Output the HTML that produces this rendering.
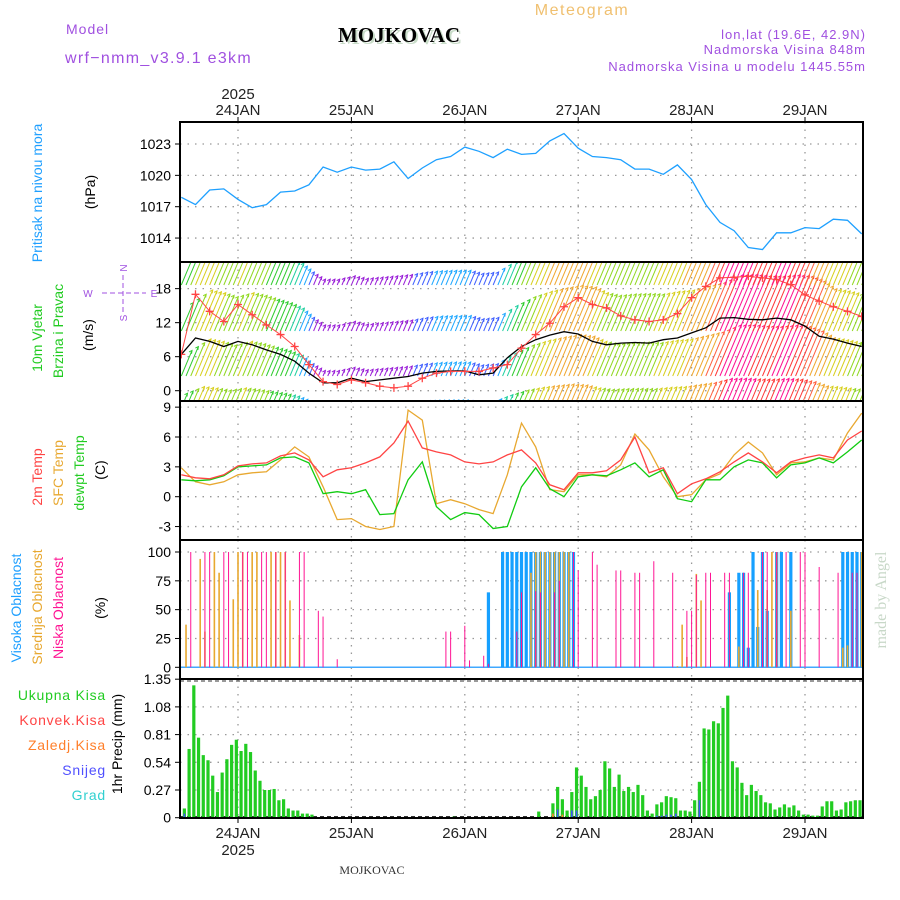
<!DOCTYPE html>
<html><head><meta charset="utf-8"><style>
html,body{margin:0;padding:0;background:#fff;}
svg{display:block;font-family:"Liberation Sans",sans-serif;}
</style></head><body>
<svg id="chart" width="900" height="900" viewBox="0 0 900 900" xmlns="http://www.w3.org/2000/svg">
<rect width="900" height="900" fill="#fff"/>
<text x="582" y="15" text-anchor="middle" font-size="16" fill="#f0c070" letter-spacing="1.5">Meteogram</text>
<text x="66" y="34" font-size="14" fill="#a050e0" letter-spacing="1">Model</text>
<text x="65" y="63" font-size="16" fill="#a050e0" letter-spacing="1.3">wrf−nmm_v3.9.1 e3km</text>
<text x="401" y="44" text-anchor="middle" font-family="Liberation Serif,serif" font-weight="bold" font-size="21" fill="#c8dcc8">MOJKOVAC</text>
<text x="399" y="42" text-anchor="middle" font-family="Liberation Serif,serif" font-weight="bold" font-size="21" fill="#000">MOJKOVAC</text>
<text x="866" y="39" text-anchor="end" font-size="13" fill="#a050e0" letter-spacing="1">lon,lat (19.6E, 42.9N)</text>
<text x="866" y="54" text-anchor="end" font-size="13" fill="#a050e0" letter-spacing="1">Nadmorska Visina 848m</text>
<text x="866" y="71" text-anchor="end" font-size="13" fill="#a050e0" letter-spacing="1">Nadmorska Visina u modelu 1445.55m</text>

<text transform="translate(42,193) rotate(-90)" text-anchor="middle" font-size="14" fill="#1e9fff">Pritisak  na  nivou  mora</text>
<text transform="translate(95,192) rotate(-90)" text-anchor="middle" font-size="14" fill="#000">(hPa)</text>
<text transform="translate(42,338) rotate(-90)" text-anchor="middle" font-size="14" fill="#22cc22">10m  Vjetar</text>
<text transform="translate(63,331) rotate(-90)" text-anchor="middle" font-size="14" fill="#22cc22">Brzina  i  Pravac</text>
<text transform="translate(93,335) rotate(-90)" text-anchor="middle" font-size="14" fill="#000">(m/s)</text>
<g fill="#a050e0" font-size="10" text-anchor="middle">
<text x="123" y="272" transform="rotate(-90 123 268)">N</text>
<text x="123" y="322" transform="rotate(-90 123 318)">S</text>
<text x="88" y="297">W</text>
<text x="154" y="297">E</text>
<line x1="102" y1="293" x2="146" y2="293" stroke="#a050e0" stroke-dasharray="5,3"/>
<line x1="123" y1="275" x2="123" y2="312" stroke="#a050e0" stroke-dasharray="5,3"/>
</g>
<text transform="translate(42,477) rotate(-90)" text-anchor="middle" font-size="14" fill="#ff4444">2m  Temp</text>
<text transform="translate(63,473) rotate(-90)" text-anchor="middle" font-size="14" fill="#e8a830">SFC  Temp</text>
<text transform="translate(84,473) rotate(-90)" text-anchor="middle" font-size="14" fill="#22cc22">dewpt  Temp</text>
<text transform="translate(105,470) rotate(-90)" text-anchor="middle" font-size="14" fill="#000">(C)</text>
<text transform="translate(21,608) rotate(-90)" text-anchor="middle" font-size="14" fill="#1e9fff">Visoka  Oblacnost</text>
<text transform="translate(42,607) rotate(-90)" text-anchor="middle" font-size="14" fill="#e8a830">Srednja  Oblacnost</text>
<text transform="translate(63,608) rotate(-90)" text-anchor="middle" font-size="14" fill="#ff1493">Niska  Oblacnost</text>
<text transform="translate(105,608) rotate(-90)" text-anchor="middle" font-size="14" fill="#000">(%)</text>
<g font-size="14" text-anchor="end" letter-spacing="0.8">
<text x="106" y="700" fill="#22cc22">Ukupna  Kisa</text>
<text x="106" y="725" fill="#ff4444">Konvek.Kisa</text>
<text x="106" y="750" fill="#ff7f2a">Zaledj.Kisa</text>
<text x="106" y="775" fill="#5050ff">Snijeg</text>
<text x="106" y="800" fill="#30d0d0">Grad</text>
</g>
<text transform="translate(122,744) rotate(-90)" text-anchor="middle" font-size="14" fill="#000">1hr Precip (mm)</text>
<text transform="translate(886,600) rotate(-90)" text-anchor="middle" font-family="Liberation Serif,serif" font-size="16" fill="#c8d8c8">made by Angel</text>
<text x="372" y="874" text-anchor="middle" font-family="Liberation Serif,serif" font-size="12" fill="#333">MOJKOVAC</text>
<g id="plots"></g>
</svg>
<script>
// ---- data (3-hourly, t = 0..144 h from 23JAN 12UTC) ----
const dayLabels = ["24JAN","25JAN","26JAN","27JAN","28JAN","29JAN"];
const dayHours = [12,36,60,84,108,132];
const pressTicks = [1014,1017,1020,1023];
const windTicks = [0,6,12,18];
const tempTicks = [-3,0,3,6,9];
const cloudTicks = [0,25,50,75,100];
const precipTicks = ["0","0.27","0.54","0.81","1.08","1.35"];
const pressure = [1017.9,1017.2,1018.6,1018.7,1017.7,1016.9,1017.2,1018.4,1018.5,1019.1,1020.8,1020.3,1020.8,1020.5,1020.6,1021.3,1019.7,1020.7,1021.5,1021.8,1022.7,1022.3,1021.7,1022.5,1022.0,1022.1,1023.3,1024.0,1022.6,1021.8,1021.7,1021.5,1020.6,1020.6,1020.1,1021.0,1019.6,1017.2,1015.5,1014.7,1013.1,1012.9,1014.5,1014.5,1015.0,1014.9,1015.8,1015.7,1014.4];
const windSpeed = [6.4,9.3,8.7,7.8,8.7,8.1,7.2,6.4,5.2,3.1,1.4,1.4,2.2,1.6,1.9,2.2,2.5,3.1,3.4,3.5,3.5,2.8,3.1,5.8,7.8,9.0,9.8,10.4,10.0,8.7,8.1,8.4,8.5,8.4,9.0,9.3,10.2,11.1,12.8,12.9,12.6,12.5,12.8,12.5,11.4,9.6,9.1,8.4,7.8];
const windGust = [6.4,17,14,12.2,15.2,13.4,11.6,9.9,7.8,4.6,1.6,1.1,1.9,1.4,0.8,0.5,0.8,2.2,3.1,3.4,3.4,3.4,4.0,4.6,7.5,9.9,11.9,14.8,16.4,15.2,14.6,13.2,12.5,12.2,12.5,13.6,16.4,18.4,19.9,20,20.2,19.9,19.6,18.7,16.9,15.8,14.8,14,13.1];
const temp2m = [2.2,1.9,1.8,2.2,3.1,3.3,3.4,4.1,4.4,3.7,2.0,2.7,2.9,3.4,4.0,5.4,7.6,4.9,4.5,4.2,3.5,3.3,3.5,4.2,4.7,3.4,1.2,0.7,2.4,2.4,2.6,3.7,6.0,2.4,2.9,0.3,1.3,1.8,2.5,3.5,4.4,3.5,2.4,3.5,3.9,4.2,3.9,5.7,6.6];
const tempSfc = [2.9,1.5,1.2,1.5,2.2,2.4,2.5,3.7,5.0,4.0,1.0,-2.3,-2.2,-3.0,-3.3,-3.0,8.7,7.7,-0.7,-0.3,-0.7,-1.3,-1.7,2.2,7.4,5.0,0.7,0.5,2.2,2.2,2.0,3.2,6.3,4.7,2.0,0.0,0.2,1.7,2.3,4.2,5.5,4.4,2.2,3.4,3.5,3.9,3.7,6.4,8.4];
const tempDew = [1.7,1.6,1.7,2.1,3.0,3.1,3.2,3.9,4.0,3.4,0.3,0.5,0.3,0.7,-1.8,-1.7,1.7,3.5,-1.0,-2.3,-1.6,-1.8,-3.2,-3.0,1.0,2.9,0.8,0.0,2.0,2.2,2.1,2.7,3.4,2.0,2.7,-0.2,-0.5,1.7,1.7,3.0,3.7,3.4,1.9,3.2,3.4,3.9,3.4,4.5,5.7];
const cloudLow = {2:100,5:100,6:100,9:100,10:100,13:100,14:100,17:100,18:100,20:100,22:100,25:100,26:100,29:49,30:44,33:7,56:31,57:31,60:36,61:6,64:10,65:3,71:31,72:65,75:66,76:65,79:65,80:75,83:100,84:84,87:100,88:89,92:84,93:84,96:82,97:82,100:92,104:82,107:49,108:49,109:80,111:82,112:82,115:82,116:82,119:82,120:82,123:100,124:100,126:100,128:100,131:100,132:100,135:87,139:82,142:82,143:82};
const cloudMid = {1:37,4:94,5:31,7:100,8:82,11:59,12:100,13:100,15:100,16:100,19:100,20:100,21:100,22:100,23:58,25:28,74:82,75:100,76:100,77:100,78:100,79:100,80:100,81:100,82:100,105:1,106:37,107:9,109:81,110:58,118:18,122:67,124:67,125:100,126:100,129:49,140:17,141:19,144:100};
const cloudHigh = {65:65,68:100,69:100,70:100,71:100,72:100,73:100,74:100,75:100,76:100,77:100,78:100,79:100,80:100,81:100,82:100,83:100,116:65,118:82,119:82,120:17,121:100,122:35,123:100,124:49,126:100,127:100,129:100,140:100,141:100,142:100,143:100,144:100};
const precipTotal = [0.09,0.67,1.29,0.78,0.61,0.56,0.41,0.25,0.44,0.57,0.71,0.76,0.65,0.72,0.64,0.46,0.36,0.27,0.27,0.28,0.17,0.18,0.09,0.07,0.07,0.04,0.04,0.03,0,0,0,0,0,0,0,0,0,0,0,0,0,0,0,0,0,0,0,0,0,0,0,0,0,0,0,0,0,0.01,0,0,0,0,0,0,0,0,0,0,0,0,0,0,0,0,0,0.06,0,0,0.14,0.30,0.18,0.07,0.25,0.49,0.41,0.30,0.18,0.21,0.27,0.55,0.48,0.30,0.42,0.26,0.30,0.25,0.32,0.22,0.07,0.04,0.13,0.15,0.21,0.20,0.19,0.07,0.07,0.06,0.17,0.35,0.87,0.86,0.94,0.92,1.07,1.19,0.55,0.49,0.34,0.22,0.32,0.26,0.22,0.15,0.14,0.08,0.10,0.13,0.10,0.12,0.07,0.03,0.03,0.02,0.02,0.11,0.16,0.16,0.07,0.08,0.15,0.16,0.17,0.17,0.06];
const precipSnow = {1:0.04,80:0.08,83:0.07,84:0.07,101:0.02,102:0.02,103:0.03,104:0.03,105:0.04,110:0.17};
const precipFreezing = {79:0.04,81:0.03};

const NS="http://www.w3.org/2000/svg";
const root=document.getElementById('plots');
const XL=180, XR=863;
const xOf=t=>181.3+4.725*t;
const yP=p=>144+(1023-p)*10.45;
const yW=v=>390.7-v*5.67;
const yT=v=>496.7-v*9.95;
const yC=v=>667.3-v*1.153;
const yR=v=>817.7-v*102.6;
const panels=[[122,262,'pressure'],[262,401,'wind'],[401,540,'temperature'],[540,679,'cloud'],[679,818,'precip']];
function mk(tag,attrs,parent){const e=document.createElementNS(NS,tag);for(const k in attrs)e.setAttribute(k,attrs[k]);(parent||root).appendChild(e);return e;}
function clip(id,top,bot){const cp=mk('clipPath',{id:id});mk('rect',{x:XL,y:top,width:XR-XL,height:bot-top},cp);}
panels.forEach(p=>clip('clip-'+p[2],p[0],p[1]));
function grid(top,bot,ys){
  dayHours.forEach(h=>{const l=mk('line',{x1:xOf(h),x2:xOf(h),y1:top,y2:bot,stroke:'#999','stroke-width':1.3,'stroke-dasharray':'1.5,6'});
    
    });
  ys.forEach(y=>{const l=mk('line',{x1:XL,x2:XR,y1:y,y2:y,stroke:'#999','stroke-width':1.3,'stroke-dasharray':'1.5,6'});
    
    });
}
function yLabels(vals,fy,labels,name){
  vals.forEach((v,i)=>{const y=fy(v);
    const t=mk('text',{x:171,y:y+5,'text-anchor':'end','font-size':14,fill:'#000'});
    t.textContent=labels?labels[i]:String(v);
    
    
    mk('line',{x1:175,x2:180,y1:y,y2:y,stroke:'#000'});});
}
grid(122,262,pressTicks.map(yP)); yLabels(pressTicks,yP,null,'pressure');
grid(262,401,windTicks.map(yW)); yLabels(windTicks,yW,null,'wind');
grid(401,540,tempTicks.map(yT)); yLabels(tempTicks,yT,null,'temperature');
grid(540,679,cloudTicks.map(yC)); yLabels(cloudTicks,yC,null,'cloud');
grid(679,818,precipTicks.map(v=>yR(+v))); yLabels(precipTicks.map(Number),yR,precipTicks,'precip');

dayLabels.forEach((d,i)=>{const x=xOf(dayHours[i]);
  const a=mk('text',{x:x,y:115,'text-anchor':'middle','font-size':15,fill:'#222'}); a.textContent=d;
  
  
  mk('line',{x1:x,x2:x,y1:117,y2:122,stroke:'#000'});
  const b=mk('text',{x:x,y:838,'text-anchor':'middle','font-size':15,fill:'#222'}); b.textContent=d;
  
  
  mk('line',{x1:x,x2:x,y1:818,y2:823,stroke:'#000'});
});
const y1=mk('text',{x:xOf(12),y:99,'text-anchor':'middle','font-size':15,fill:'#222'});y1.textContent='2025';


const y2=mk('text',{x:xOf(12),y:855,'text-anchor':'middle','font-size':15,fill:'#222'});y2.textContent='2025';



function line(arr,fy,color,name,clipId,w){
  const pts=arr.map((v,i)=>xOf(i*3).toFixed(1)+','+fy(v).toFixed(1)).join(' ');
  const l=mk('polyline',{points:pts,fill:'none',stroke:color,'stroke-width':w||1.3,'clip-path':'url(#'+clipId+')'});
  
  
  return l;
}
line(pressure,yP,'#1ea0ff','pressure-line','clip-pressure');

function speedAt(h){const i=Math.min(Math.floor(h/3),windSpeed.length-2);const f=h/3-i;return windSpeed[i]*(1-f)+windSpeed[i+1]*f;}
function wcol(s){if(s<2.6)return '#9a20d8';if(s<3.3)return '#4060ff';if(s<4.5)return '#20a8ff';if(s<6)return '#20d0a0';if(s<7.5)return '#30cc30';if(s<8.6)return '#90d820';if(s<9.5)return '#d8d020';if(s<10.8)return '#f0a830';if(s<12)return '#ff6040';if(s<12.7)return '#ff3838';return '#ff1090';}
const gW=mk('g',{'clip-path':'url(#clip-wind)'});


const rowBase=[285,331,376,408];const rowFac=[1.0,1.05,0.95,0.55];
for(let h=0;h<=144;h++){const s=speedAt(h);const c=wcol(s);
  rowBase.forEach((b,r)=>{const L=Math.max(3,s*rowFac[r]*4.2);const x=xOf(h);
    const x2=x+L*0.42,y2=b-L;
    mk('line',{x1:x,y1:b,x2:x2,y2:y2,stroke:c,'stroke-width':1},gW);
    mk('path',{d:`M${x2-3},${y2+1.5} L${x2},${y2} L${x2-0.5},${y2+3.3}`,fill:'none',stroke:c,'stroke-width':1},gW);
  });}
line(windSpeed,yW,'#000','wind-speed-line','clip-wind');
line(windGust,yW,'#ff4444','wind-gust-line','clip-wind',1);
const gG=mk('g',{'clip-path':'url(#clip-wind)',stroke:'#ff4444','stroke-width':1.3});


windGust.forEach((v,i)=>{const x=xOf(i*3),y=yW(v);mk('path',{d:`M${x-4},${y}L${x+4},${y}M${x},${y-4}L${x},${y+4}`},gG);});

line(tempSfc,yT,'#e8a830','sfc-temp-line','clip-temperature');
line(tempDew,yT,'#11cc11','dewpoint-line','clip-temperature');
line(temp2m,yT,'#ff4444','temp-2m-line','clip-temperature');

mk('line',{x1:XL,x2:XR,y1:yC(0),y2:yC(0),stroke:'#40a8ff','stroke-width':1.5});
function cbars(obj,color,w,name){for(const h in obj){const x=xOf(+h);const v=obj[h];
  const r=mk('rect',{x:x-w/2,y:yC(v),width:w,height:yC(0)-yC(v),fill:color,'clip-path':'url(#clip-cloud)'});
  
  }}
cbars(cloudHigh,'#16a0ff',3.2,'cloud-high-bar');
cbars(cloudMid,'#e8a830',1.6,'cloud-mid-bar');
cbars(cloudLow,'#ff1493',1,'cloud-low-bar');

mk('line',{x1:XL,x2:XR,y1:681,y2:681,stroke:'#333','stroke-dasharray':'4,3'});
mk('line',{x1:XL,x2:XR,y1:816.5,y2:816.5,stroke:'#333','stroke-dasharray':'4,3'});
precipTotal.forEach((v,i)=>{if(v<=0)return;const x=xOf(i+1-0.35);
  const r=mk('rect',{x:x-1.6,y:yR(v),width:3.2,height:yR(0)-yR(v),fill:'#22cc22','clip-path':'url(#clip-precip)'});
  
  });
for(const h in precipSnow){const v=precipSnow[h];const x=xOf(+h-0.35);
  const r=mk('rect',{x:x-0.8,y:yR(v),width:1.6,height:yR(0)-yR(v),fill:'#4050ff'});
  
  }
for(const h in precipFreezing){const v=precipFreezing[h];const x=xOf(+h-0.35);
  const r=mk('rect',{x:x-0.8,y:yR(v),width:1.6,height:yR(0)-yR(v),fill:'#ff7f2a'});
  
  }

panels.forEach(p=>{const r=mk('rect',{x:XL,y:p[0],width:XR-XL,height:p[1]-p[0],fill:'none',stroke:'#000','stroke-width':2});
  
  });
</script>
</body></html>
